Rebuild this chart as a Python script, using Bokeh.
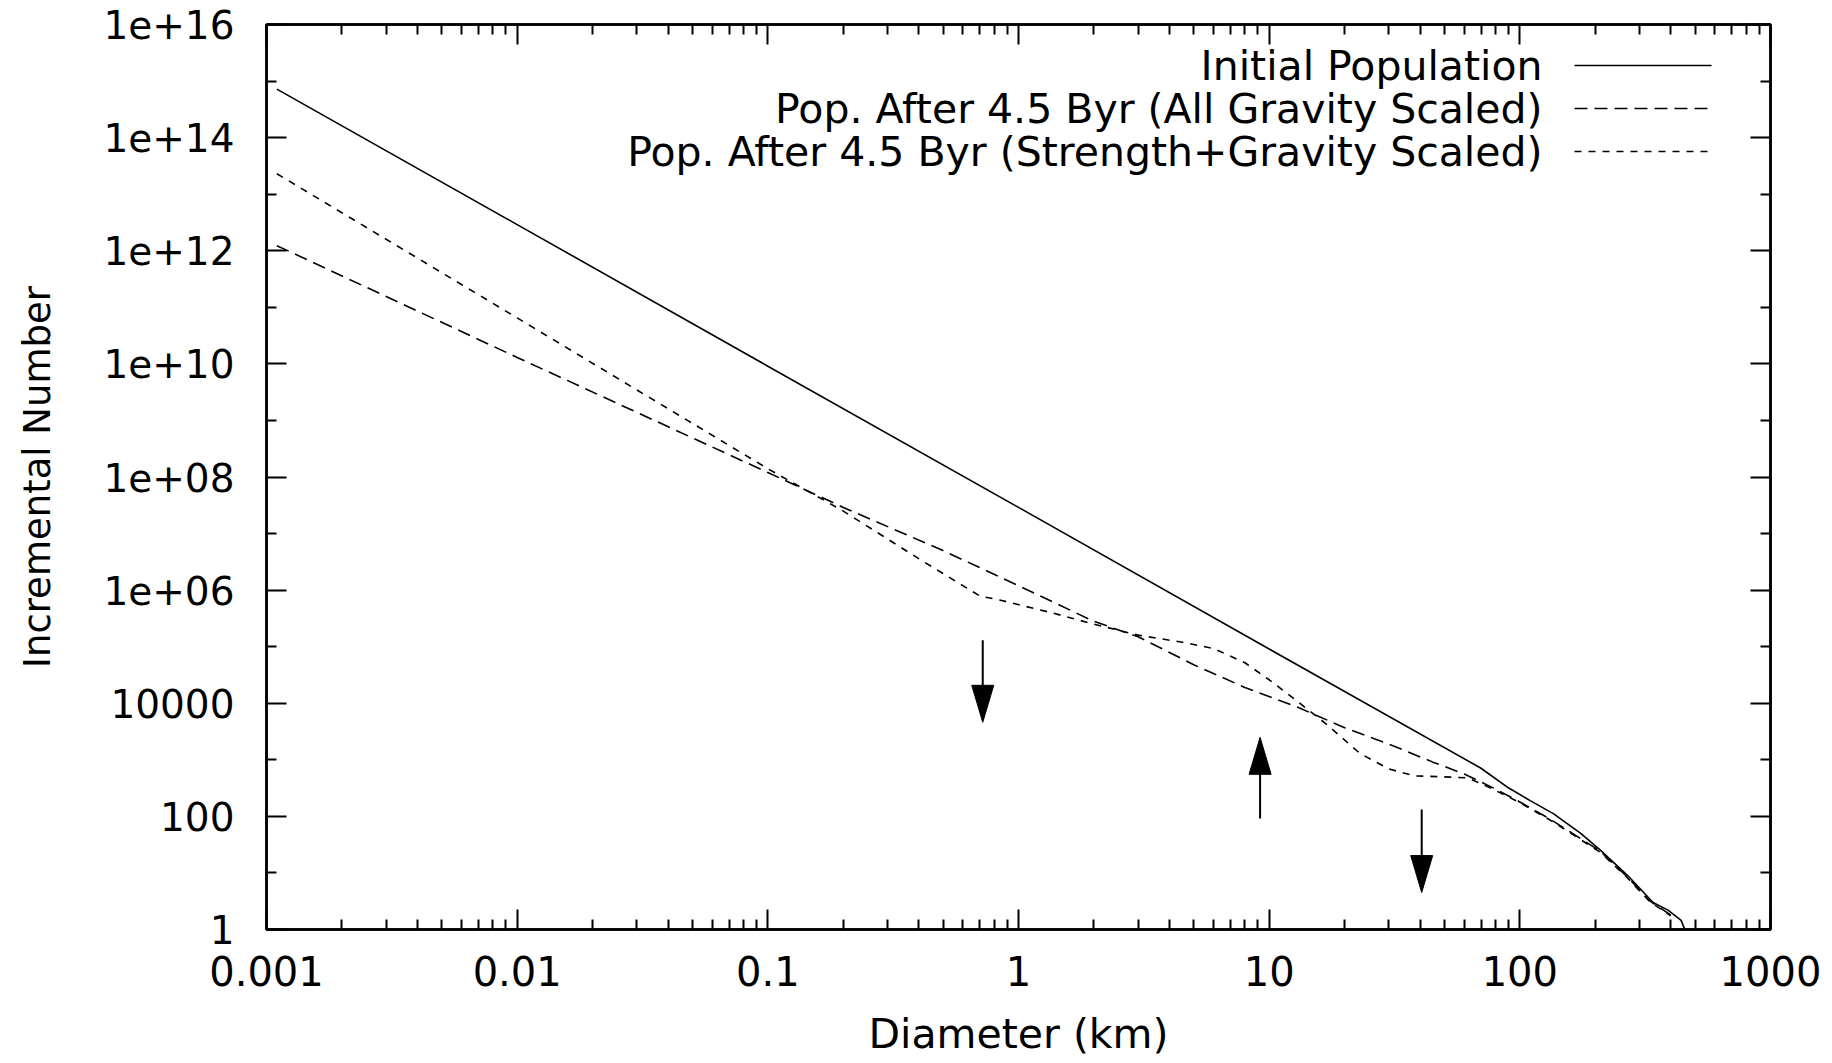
import numpy as np
from bokeh.plotting import figure
from bokeh.models import (LogAxis, FixedTicker, CustomJSTickFormatter, Label,
                          Arrow, Range1d)
from bokeh.embed import file_html
from bokeh.resources import INLINE

# ---------------- data ----------------
diam_initial = [0.0011, 0.01, 0.1, 1, 10, 70, 90, 110, 136, 175, 210, 270, 340, 390, 440, 455]
num_initial = [7.2e14, 2.9e12, 9.1e9, 2.9e7, 9.1e4, 710, 320, 190, 112, 50, 25, 8.9, 3.0, 2.2, 1.45, 1.0]

diam_grav = [0.0011, 0.01, 0.1, 0.2, 0.5, 1, 2, 3, 5, 8, 13, 20, 30, 45, 60, 75,
             100, 130, 160, 210, 270, 330, 400]
num_grav = [1.23e12, 1.3e10, 1.2e8, 2.9e7, 5.0e6, 1.2e6, 2.8e5, 1.5e5, 4.8e4, 1.9e4,
            8.5e3, 3.7e3, 1.9e3, 910, 560, 350, 180, 93, 52, 24, 8.3, 3.2, 1.8]

diam_str = [0.0011, 0.01, 0.1, 0.2, 0.4, 0.7, 0.85, 1.35, 2, 3, 4.5, 6, 8, 10, 13, 17,
            23, 30, 38, 50, 62, 75, 100, 130, 160, 210, 270, 330, 400]
num_str = [2.3e13, 6.5e10, 1.4e8, 2.5e7, 3.6e6, 7.9e5, 6.6e5, 4.0e5, 2.5e5, 1.6e5, 1.2e5,
           9.3e4, 5.2e4, 2.6e4, 1.07e4, 4.2e3, 1.3e3, 690, 520, 500, 480, 330, 175, 90,
           50, 23, 8.0, 3.1, 1.75]

arrow_diam = [0.72, 9.2, 40.6]
arrow_from = [1.3e5, 92, 132]
arrow_to = [4.6e3, 2.5e3, 4.5]

legend_labels = ["Initial Population",
                 "Pop. After 4.5 Byr (All Gravity Scaled)",
                 "Pop. After 4.5 Byr (Strength+Gravity Scaled)"]

x_major = [1e-3, 1e-2, 1e-1, 1, 10, 100, 1000]
x_minor = [m * 10.0 ** e for e in range(-3, 3) for m in range(2, 10)]
y_major = [10.0 ** e for e in range(0, 17, 2)]
y_minor = [10.0 ** e for e in range(1, 17, 2)]

x_label = "Diameter (km)"
y_label = "Incremental Number"

# ---------------- styling ----------------
FONT = "DejaVu Sans"
FRAME_W, FRAME_H = 1504, 905
X0, X1 = 1e-3, 1e3
Y0, Y1 = 1.0, 1e16
dashes = [None, "13 7", "7 7"]

p = figure(x_axis_type="log", y_axis_type="log",
           x_range=Range1d(X0, X1), y_range=Range1d(Y0, Y1),
           frame_width=FRAME_W, frame_height=FRAME_H,
           min_border_left=266, min_border_right=54,
           min_border_top=24, min_border_bottom=126,
           output_backend="svg", toolbar_location=None)
p.grid.visible = False
p.outline_line_color = "black"
p.outline_line_width = 2.5
p.background_fill_color = "white"
p.border_fill_color = "white"

xfmt = CustomJSTickFormatter(code="""
const e = Math.round(Math.log10(tick));
return e < 0 ? tick.toFixed(-e) : String(Math.round(tick));
""")
yfmt = CustomJSTickFormatter(code="""
const e = Math.round(Math.log10(tick));
if (e <= 4) return String(Math.round(tick));
return "1e+" + (e < 10 ? "0" + e : String(e));
""")
blank = CustomJSTickFormatter(code="return '';")


def style(ax):
    ax.axis_line_width = 2.5
    ax.axis_line_color = "black"
    ax.major_tick_in = 20
    ax.major_tick_out = 0
    ax.minor_tick_in = 10
    ax.minor_tick_out = 0
    ax.major_tick_line_width = 2
    ax.minor_tick_line_width = 2
    ax.major_tick_line_color = "black"
    ax.minor_tick_line_color = "black"
    ax.major_label_text_font = FONT
    ax.major_label_text_color = "black"
    ax.axis_label_text_font = FONT
    ax.axis_label_text_font_style = "normal"
    ax.axis_label_text_color = "black"


xb = p.xaxis[0]
xb.ticker = FixedTicker(ticks=x_major, minor_ticks=x_minor)
xb.formatter = xfmt
style(xb)
xb.major_label_text_font_size = "40px"
xb.major_label_standoff = 26
xb.axis_label = x_label
xb.axis_label_text_font_size = "41px"
xb.axis_label_standoff = 21

yl = p.yaxis[0]
yl.ticker = FixedTicker(ticks=y_major, minor_ticks=y_minor)
yl.formatter = yfmt
style(yl)
yl.major_label_text_font_size = "39px"
yl.major_label_standoff = 32
yl.axis_label = y_label
yl.axis_label_text_font_size = "37px"
yl.axis_label_standoff = 41

xt = LogAxis(ticker=FixedTicker(ticks=x_major, minor_ticks=x_minor), formatter=blank)
style(xt)
xt.major_label_text_font_size = "0px"
xt.major_label_standoff = 0
p.add_layout(xt, "above")

yr = LogAxis(ticker=FixedTicker(ticks=y_major, minor_ticks=y_minor), formatter=blank)
style(yr)
yr.major_label_text_font_size = "0px"
yr.major_label_standoff = 0
p.add_layout(yr, "right")

# ---------------- curves ----------------
series = [(diam_initial, num_initial), (diam_grav, num_grav), (diam_str, num_str)]
for (xs, ys), dash in zip(series, dashes):
    kw = dict(line_color="black", line_width=1.6)
    if dash:
        kw["line_dash"] = dash
    p.line(xs, ys, **kw)

# ---------------- arrows ----------------
HEAD_W, HEAD_L = 22, 37
px_dec_x = FRAME_W / np.log10(X1 / X0)
px_dec_y = FRAME_H / np.log10(Y1 / Y0)
hw = (HEAD_W / 2) / px_dec_x
hl = HEAD_L / px_dec_y
head_xs, head_ys, shaft_end = [], [], []
for d, a, b in zip(arrow_diam, arrow_from, arrow_to):
    direction = 1 if b > a else -1
    base = b / 10 ** (direction * hl)
    shaft_end.append(base)
    head_xs.append([d * 10 ** (-hw), d, d * 10 ** hw])
    head_ys.append([base, b, base])
p.segment(x0=arrow_diam, y0=arrow_from, x1=arrow_diam, y1=shaft_end,
          line_color="black", line_width=2)
p.patches(head_xs, head_ys, fill_color="black", line_color="black", line_width=1)

# ---------------- legend (text right-aligned, sample to its right) ----------------
LEG_TEXT_X = 1276
LEG_LINE_X0, LEG_LINE_X1 = 1308, 1445
LEG_ROW0, LEG_ROW_STEP = 864, 43
for i, (lab, dash) in enumerate(zip(legend_labels, dashes)):
    yc = LEG_ROW0 - i * LEG_ROW_STEP
    p.add_layout(Label(x=LEG_TEXT_X, y=yc, x_units="screen", y_units="screen",
                       text=lab, text_align="right", text_baseline="alphabetic",
                       text_font=FONT, text_font_size="41px", text_color="black"))
    kw = dict(line_color="black", line_width=1.6)
    if dash:
        kw["line_dash"] = dash
    p.add_layout(Arrow(end=None, x_start=LEG_LINE_X0, y_start=yc, x_end=LEG_LINE_X1, y_end=yc,
                       start_units="screen", end_units="screen", **kw))

open("out.html", "w").write(file_html(p, INLINE))
